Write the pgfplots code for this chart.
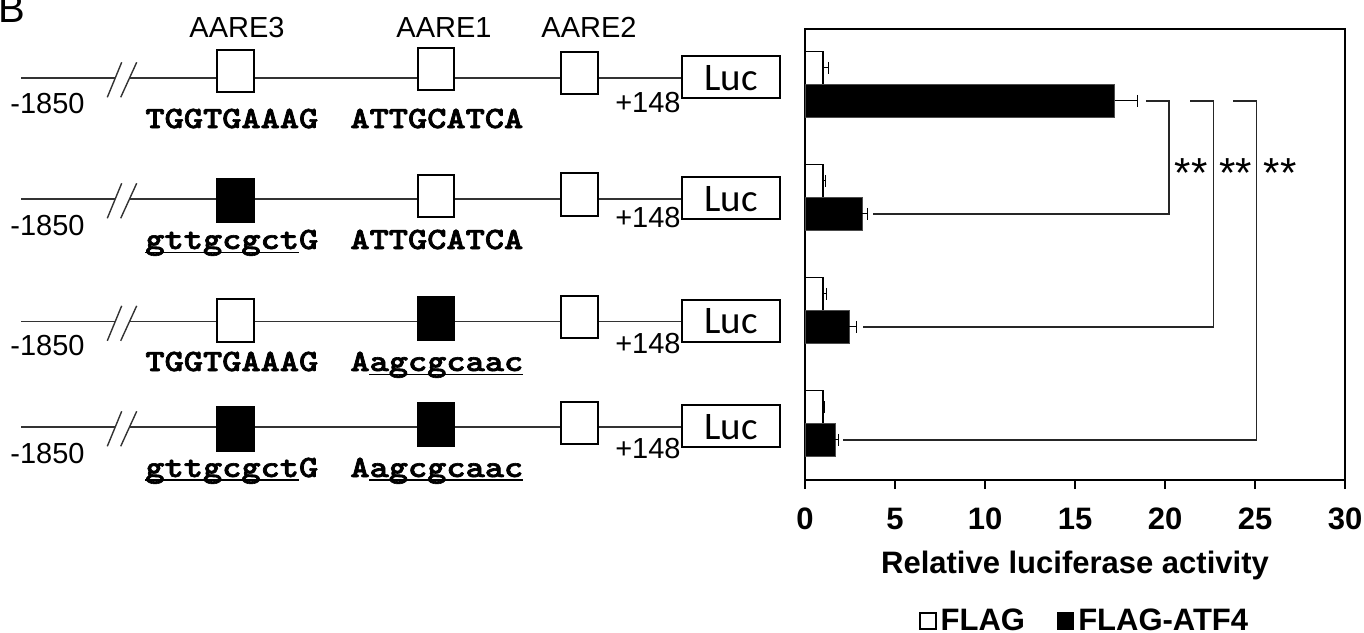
\documentclass[border=0pt]{standalone}
\usepackage{pgfplots}
\pgfplotsset{compat=1.18}
\usepackage{fontspec}
\setmainfont{Liberation Sans}
\newfontfamily\lucfont{Carlito}
\newfontfamily\seqfont{lmmonolt10-bold.otf}[FakeBold=2]
\newcommand{\sq}[1]{\scalebox{1.18}[1]{\seqfont\fontsize{15.5}{19}\selectfont #1}}
\begin{document}
\begin{tikzpicture}
% ---------- schematic (pixel coordinates) ----------
\begin{axis}[name=bg, at={(0pt,0pt)}, anchor=south west, scale only axis,
  width=682pt, height=316pt, xmin=0, xmax=1364, ymin=0, ymax=632, y dir=reverse,
  axis lines=none, ticks=none, clip=false]
\tikzset{
  dna/.style={line width=0.7pt, black!80},
  aare/.style={line width=0.9pt, draw=black},
  lab/.style={inner sep=0pt, font=\fontsize{14.5}{17}\selectfont},
  seq/.style={inner sep=0pt, anchor=base west},
  und/.style={line width=0.7pt, black}
}
\node[inner sep=0pt, anchor=base west, font=\fontsize{20}{24}\selectfont] at (-2,23) {B};
\node[lab, anchor=base] at (237,37) {AARE3};
\node[lab, anchor=base] at (444,37) {AARE1};
\node[lab, anchor=base] at (589,37) {AARE2};
% row 1
\draw[dna] (21,78) -- (115,78);
\draw[dna] (129,78) -- (682,78);
\draw[dna] (107.3,97.3) -- (121.7,62.3);
\draw[dna] (120.7,97.3) -- (136.7,62.3);
\draw[aare, fill=white] (217,50) rectangle (254,92);
\draw[aare, fill=white] (418,48) rectangle (454,90);
\draw[aare, fill=white] (561,52) rectangle (598,94);
\draw[aare, fill=white] (682,56) rectangle (780,98);
\node[inner sep=0pt, font=\lucfont\fontsize{19.5}{22}\selectfont] at (731,78) {Luc};
\node[lab, anchor=base west] at (10,113) {-1850};
\node[lab, anchor=base east] at (681,112) {+148};
\node[seq] at (145,128) {\sq{TGGTGAAAG}};
\node[seq] at (350,128) {\sq{ATTGCATCA}};
% row 2
\draw[dna] (21,199) -- (115,199);
\draw[dna] (129,199) -- (682,199);
\draw[dna] (107.3,218.3) -- (121.7,183.3);
\draw[dna] (120.7,218.3) -- (136.7,183.3);
\draw[aare, fill=black] (217,179) rectangle (254,222);
\draw[aare, fill=white] (418,175) rectangle (454,217);
\draw[aare, fill=white] (561,173) rectangle (598,216);
\draw[aare, fill=white] (682,177) rectangle (780,219);
\node[inner sep=0pt, font=\lucfont\fontsize{19.5}{22}\selectfont] at (731,199) {Luc};
\node[lab, anchor=base west] at (10,235) {-1850};
\node[lab, anchor=base east] at (681,227) {+148};
\node[seq] at (145,249) {\sq{gttgcgctG}};
\draw[und] (145,252.5) -- (298.6,252.5);
\node[seq] at (350,249) {\sq{ATTGCATCA}};
% row 3
\draw[dna] (21,321.5) -- (115,321.5);
\draw[dna] (129,321.5) -- (682,321.5);
\draw[dna] (107.3,340.8) -- (121.7,305.8);
\draw[dna] (120.7,340.8) -- (136.7,305.8);
\draw[aare, fill=white] (217,299) rectangle (254,342);
\draw[aare, fill=black] (418,297) rectangle (454,340);
\draw[aare, fill=white] (561,296) rectangle (598,338);
\draw[aare, fill=white] (682,300) rectangle (780,342);
\node[inner sep=0pt, font=\lucfont\fontsize{19.5}{22}\selectfont] at (731,321.5) {Luc};
\node[lab, anchor=base west] at (10,355) {-1850};
\node[lab, anchor=base east] at (681,353) {+148};
\node[seq] at (145,371) {\sq{TGGTGAAAG}};
\node[seq] at (350,371) {\sq{Aagcgcaac}};
\draw[und] (369.2,374.5) -- (522.8,374.5);
% row 4
\draw[dna] (21,427) -- (115,427);
\draw[dna] (129,427) -- (682,427);
\draw[dna] (107.3,446.3) -- (121.7,411.3);
\draw[dna] (120.7,446.3) -- (136.7,411.3);
\draw[aare, fill=black] (217,407) rectangle (254,451);
\draw[aare, fill=black] (418,403) rectangle (454,446);
\draw[aare, fill=white] (561,402) rectangle (598,444);
\draw[aare, fill=white] (682,405) rectangle (780,447);
\node[inner sep=0pt, font=\lucfont\fontsize{19.5}{22}\selectfont] at (731,427) {Luc};
\node[lab, anchor=base west] at (10,463) {-1850};
\node[lab, anchor=base east] at (681,458) {+148};
\node[seq] at (145,477) {\sq{gttgcgctG}};
\draw[und] (145,480) -- (298.6,480);
\node[seq] at (350,477) {\sq{Aagcgcaac}};
\draw[und] (369.2,480) -- (522.8,480);
\end{axis}
% ---------- bar chart ----------
\begin{axis}[at={(402.5pt,76pt)}, anchor=south west, scale only axis,
  width=270pt, height=225.5pt,
  xmin=0, xmax=30, ymin=0.646, ymax=4.637,
  xtick={0,5,...,30}, ytick=\empty, xtick pos=left,
  tick align=outside, major tick length=4.5pt,
  tick style={line width=0.8pt, black},
  axis line style={line width=0.9pt},
  /pgf/number format/assume math mode=true,
  xticklabel style={font=\bfseries\fontsize{15.5}{18}\selectfont, yshift=-6pt},
  xlabel={Relative luciferase activity},
  xlabel style={font=\bfseries\fontsize{15.5}{18}\selectfont, at={(axis description cs:0.5,-0.2084)}, anchor=base},
  legend style={at={(0.52,-0.3126)}, anchor=center, draw=none, fill=none,
    legend columns=-1, font=\bfseries\fontsize{15.5}{18}\selectfont,
    /tikz/every even column/.append style={column sep=14pt},
    nodes={inner sep=2pt}},
  clip=false]
\addplot[xbar, bar width=0.292, bar shift=0pt, fill=white, draw=black, line width=0.8pt,
  legend image code/.code={\draw[fill=white, draw=black, line width=0.6pt] (0pt,-4pt) rectangle (8pt,4pt);},
  error bars/.cd, x dir=plus, x explicit, error mark=|,
  error bar style={line width=0.5pt, black},
  error mark options={mark size=3pt, line width=0.5pt, black}]
  coordinates {(1.0,4.292) +- (0.33,0) (1.0,3.292) +- (0.15,0) (1.0,2.292) +- (0.2,0) (1.0,1.292) +- (0.1,0)};
\addlegendentry{FLAG}
\addplot[xbar, bar width=0.292, bar shift=0pt, fill=black, draw=black!70, line width=0.4pt,
  legend image code/.code={\draw[fill=black, draw=black, line width=0.6pt] (0pt,-4pt) rectangle (8pt,4pt);},
  error bars/.cd, x dir=plus, x explicit, error mark=|,
  error bar style={line width=0.5pt, black},
  error mark options={mark size=3pt, line width=0.5pt, black}]
  coordinates {(17.2,4) +- (1.25,0) (3.18,3) +- (0.3,0) (2.46,2) +- (0.4,0) (1.67,1) +- (0.18,0)};
\addlegendentry{FLAG-ATF4}
% significance brackets
\addplot[forget plot, black!85, line width=0.6pt, mark=none] coordinates {(18.94,4) (20.22,4) (20.22,3) (3.8,3)};
\addplot[forget plot, black!85, line width=0.6pt, mark=none] coordinates {(21.39,4) (22.7,4) (22.7,2) (3.2,2)};
\addplot[forget plot, black!85, line width=0.6pt, mark=none] coordinates {(23.8,4) (25.1,4) (25.1,1) (2.13,1)};
\node[anchor=base, inner sep=0pt, font=\fontsize{21}{24}\selectfont] at (axis cs:21.45,3.235) {**};
\node[anchor=base, inner sep=0pt, font=\fontsize{21}{24}\selectfont] at (axis cs:23.92,3.235) {**};
\node[anchor=base, inner sep=0pt, font=\fontsize{21}{24}\selectfont] at (axis cs:26.4,3.235) {**};
\end{axis}
\pgfresetboundingbox
\useasboundingbox (0pt,0pt) rectangle (682pt,316pt);
\end{tikzpicture}
\end{document}
